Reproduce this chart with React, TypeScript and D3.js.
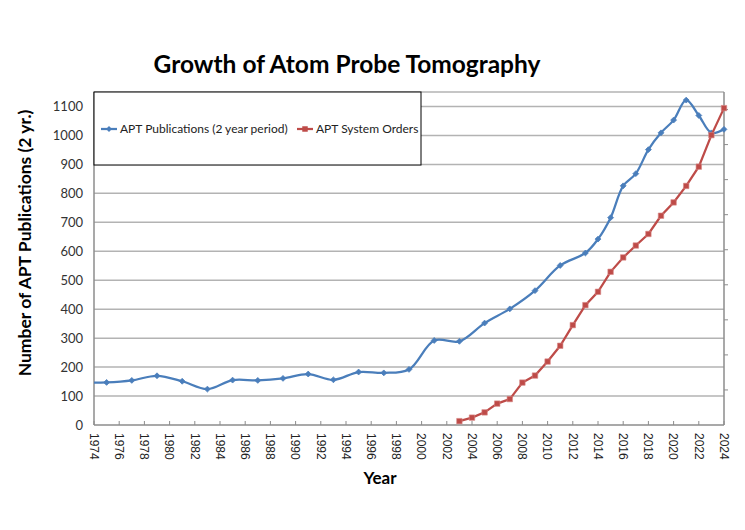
import React from "react";
import * as d3 from "d3";

// Publications per 2-year period (plotted at mid-period year, annual from 2013 on)
const pubYears = [1973, 1975, 1977, 1979, 1981, 1983, 1985, 1987, 1989, 1991, 1993, 1995, 1997, 1999, 2001, 2003, 2005, 2007, 2009, 2011, 2013, 2014, 2015, 2016, 2017, 2018, 2019, 2020, 2021, 2022, 2023, 2024];
const pubCounts = [146, 147, 154, 170, 151, 124, 155, 154, 161, 176, 156, 183, 180, 192, 292, 289, 352, 401, 464, 551, 594, 642, 716, 826, 868, 951, 1009, 1053, 1122, 1069, 1009, 1021];

// Cumulative system orders (secondary axis)
const orderYears = [2003, 2004, 2005, 2006, 2007, 2008, 2009, 2010, 2011, 2012, 2013, 2014, 2015, 2016, 2017, 2018, 2019, 2020, 2021, 2022, 2023, 2024];
const orderCounts = [1.1, 2.1, 3.6, 6.1, 7.4, 12.1, 14.1, 18.1, 22.6, 28.5, 34.2, 38.0, 43.7, 47.8, 51.2, 54.5, 59.7, 63.5, 68.2, 73.7, 82.7, 90.4];

const yTicks = [0, 100, 200, 300, 400, 500, 600, 700, 800, 900, 1000, 1100];
const y2Ticks = [10, 20, 30, 40, 50, 60, 70, 80, 90];
const xTickLabels = ["1974", "1976", "1978", "1980", "1982", "1984", "1986", "1988", "1990", "1992", "1994", "1996", "1998", "2000", "2002", "2004", "2006", "2008", "2010", "2012", "2014", "2016", "2018", "2020", "2022", "2024"];

const seriesNames = ["APT Publications (2 year period)", "APT System Orders"];
const BLUE = "#4A7EBB";
const RED = "#BE4B48";

const W = 745;
const H = 530;
const M = { left: 94, right: 724, top: 92, bottom: 425 };

export default function App() {
  const x = d3.scaleLinear().domain([1974, 2024]).range([M.left, M.right]);
  const y = d3.scaleLinear().domain([0, 1150]).range([M.bottom, M.top]);
  const y2 = d3.scaleLinear().domain([0, 95]).range([M.bottom, M.top]);

  const pubData = pubYears.map((yr, i) => [yr, pubCounts[i]] as [number, number]);
  const orderData = orderYears.map((yr, i) => [yr, orderCounts[i]] as [number, number]);

  const pubLine = d3
    .line<[number, number]>()
    .x((d) => x(d[0]))
    .y((d) => y(d[1]))
    .curve(d3.curveCatmullRom)(pubData) as string;
  const orderLine = d3
    .line<[number, number]>()
    .x((d) => x(d[0]))
    .y((d) => y2(d[1]))(orderData) as string;

  const diamond = d3.symbol().type(d3.symbolDiamond2).size(22)() as string;
  const square = d3.symbol().type(d3.symbolSquare).size(30)() as string;

  const sans = "Lato, 'Open Sans', sans-serif";
  const gridColor = "#b3b3b3";
  const axisColor = "#8c8c8c";

  const legendY = 129;

  return (
    <svg
      width={W}
      height={H}
      style={{ position: "absolute", left: 0, top: 0, display: "block", background: "#fff" }}
    >
      <defs>
        <clipPath id="plot-clip">
          <rect x={M.left} y={M.top - 6} width={M.right - M.left + 6} height={M.bottom - M.top + 6} />
        </clipPath>
      </defs>

      {/* Title */}
      <text x={347} y={73} textAnchor="middle" fontFamily={sans} fontWeight={700} fontSize={24.5} fill="#000">
        Growth of Atom Probe Tomography
      </text>

      {/* Gridlines */}
      {yTicks.filter((t) => t > 0).map((t) => (
        <line key={t} x1={M.left} x2={M.right} y1={y(t)} y2={y(t)} stroke={gridColor} strokeWidth={1.5} />
      ))}
      <line x1={M.left} x2={M.right} y1={M.top} y2={M.top} stroke={gridColor} strokeWidth={1.5} />

      {/* Axes */}
      <line x1={M.left} x2={M.left} y1={M.top} y2={M.bottom} stroke={axisColor} strokeWidth={1.5} />
      <line x1={M.right} x2={M.right} y1={M.top} y2={M.bottom} stroke={axisColor} strokeWidth={1.5} />
      <line x1={M.left} x2={M.right} y1={M.bottom} y2={M.bottom} stroke={axisColor} strokeWidth={1.5} />

      {/* Secondary axis ticks */}
      {y2Ticks.map((t) => (
        <line key={t} x1={M.right} x2={M.right + 4} y1={y2(t)} y2={y2(t)} stroke={axisColor} strokeWidth={1} />
      ))}

      {/* Y tick labels */}
      {yTicks.map((t) => (
        <text key={t} x={83} y={y(t)} dy="0.35em" textAnchor="end" fontFamily={sans} fontSize={13} fill="#333">
          {t}
        </text>
      ))}

      {/* X ticks and labels */}
      {xTickLabels.map((lab) => {
        const xx = x(+lab);
        return (
          <g key={lab}>
            <line x1={xx} x2={xx} y1={M.bottom - 4} y2={M.bottom} stroke={axisColor} strokeWidth={1} />
            <text
              transform={`translate(${xx},${M.bottom + 8}) rotate(90)`}
              dy="0.35em"
              fontFamily="'Liberation Sans', Arial, sans-serif"
              fontSize={12}
              fill="#222"
            >
              {lab}
            </text>
          </g>
        );
      })}

      {/* Axis titles */}
      <text
        transform={`translate(31,243) rotate(-90)`}
        textAnchor="middle"
        fontFamily={sans}
        fontWeight={700}
        fontSize={17.5}
        fill="#000"
      >
        Number of APT Publications (2 yr.)
      </text>
      <text x={380} y={484} textAnchor="middle" fontFamily={sans} fontWeight={700} fontSize={17} fill="#000">
        Year
      </text>

      {/* Series */}
      <g clipPath="url(#plot-clip)">
        <path d={pubLine} fill="none" stroke={BLUE} strokeWidth={2.25} />
        {pubData.map((d) => (
          <path key={d[0]} d={diamond} transform={`translate(${x(d[0])},${y(d[1])})`} fill={BLUE} stroke={BLUE} strokeWidth={0.8} />
        ))}
        <path d={orderLine} fill="none" stroke={RED} strokeWidth={2.25} />
        {orderData.map((d) => (
          <path key={d[0]} d={square} transform={`translate(${x(d[0])},${y2(d[1])})`} fill={RED} stroke="#d98a88" strokeWidth={0.6} />
        ))}
      </g>

      {/* Legend */}
      <rect x={M.left} y={M.top} width={327} height={73} fill="#fff" stroke="#000" strokeWidth={1} />
      <line x1={101} x2={117} y1={legendY} y2={legendY} stroke={BLUE} strokeWidth={2.25} />
      <path d={diamond} transform={`translate(109,${legendY})`} fill={BLUE} />
      <text x={120} y={legendY} dy="0.35em" fontFamily={sans} fontSize={12} fill="#222">
        {seriesNames[0]}
      </text>
      <line x1={297} x2={313} y1={legendY} y2={legendY} stroke={RED} strokeWidth={2.25} />
      <path d={square} transform={`translate(305,${legendY})`} fill={RED} />
      <text x={316} y={legendY} dy="0.35em" fontFamily={sans} fontSize={12} fill="#222">
        {seriesNames[1]}
      </text>
    </svg>
  );
}
